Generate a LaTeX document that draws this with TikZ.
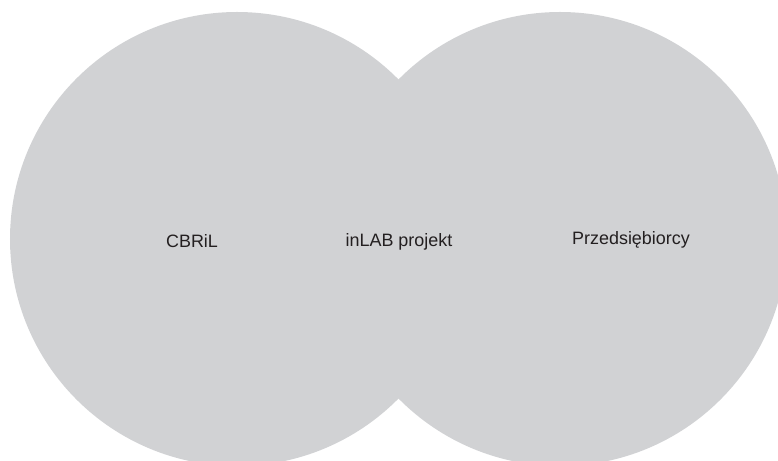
\documentclass[tikz,border=0pt]{standalone}
\usepackage{fontspec}
\setmainfont{Liberation Sans}
\definecolor{vennfill}{HTML}{D1D2D4}
\definecolor{txt}{HTML}{231F20}
\begin{document}
\begin{tikzpicture}[x=1bp,y=-1bp,
  setcircle/.style={circle, fill=vennfill, draw=none, minimum size=454bp, inner sep=0pt},
  lbl/.style={anchor=base, text=txt, font=\fontsize{18}{20}\selectfont, inner sep=0pt}]
\useasboundingbox (0,0) rectangle (778,461);
\clip (0,0) rectangle (778,461);
\node[setcircle] (left) at (237,239) {};
\node[setcircle] (right) at (560,239) {};
\node[lbl] (a) at (192,248) {CBRiL};
\node[lbl] (b) at (399,246.5) {inLAB projekt};
\node[lbl] (c) at (631,245) {Przedsiębiorcy};
\end{tikzpicture}
\end{document}
